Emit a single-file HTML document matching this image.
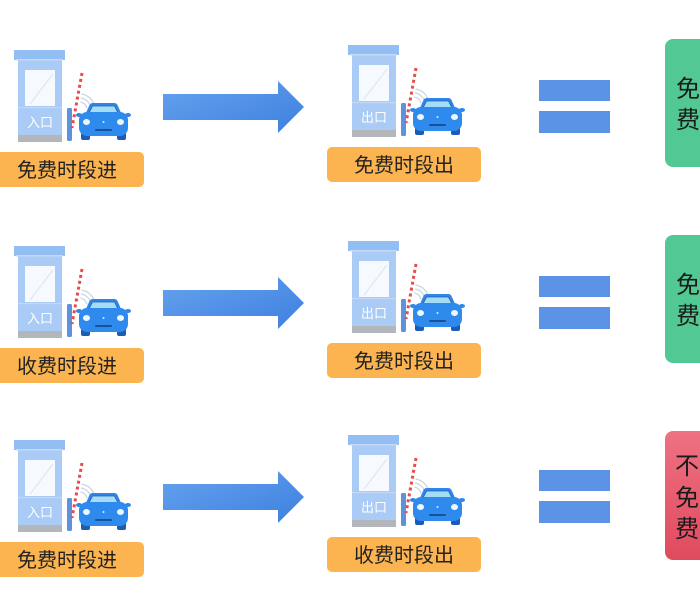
<!DOCTYPE html>
<html><head><meta charset="utf-8"><style>
html,body{margin:0;padding:0;background:#fff;}
svg{display:block;}
.lbl{font-family:"Liberation Sans","Noto Sans CJK SC",sans-serif;font-size:20px;fill:#222;text-anchor:middle;}
.bt{font-family:"Liberation Sans","Noto Sans CJK SC",sans-serif;font-size:13px;fill:#fff;text-anchor:middle;}
.rt{font-family:"Liberation Sans","Noto Sans CJK SC",sans-serif;font-size:24px;fill:#1a1a1a;}
</style></head><body>
<svg width="700" height="600" viewBox="0 0 700 600" xmlns="http://www.w3.org/2000/svg">
<defs>
<linearGradient id="ag" x1="0" y1="0" x2="1" y2="1">
<stop offset="0" stop-color="#66a2ee"/><stop offset="1" stop-color="#3d80df"/>
</linearGradient>
<linearGradient id="rg" x1="0" y1="0" x2="0" y2="1">
<stop offset="0" stop-color="#ee7282"/><stop offset="1" stop-color="#e04a5f"/>
</linearGradient>
<g id="st">
<!-- booth -->
<rect x="18" y="60" width="44" height="76" fill="#a9cbf5"/>
<rect x="14" y="50" width="51" height="10" fill="#93bef3"/>
<rect x="16" y="59" width="47" height="1.5" fill="#c4dbf8"/>
<rect x="25" y="70" width="30" height="36" fill="#f6f9fe"/>
<line x1="30" y1="104" x2="53" y2="74" stroke="#dce8f7" stroke-width="1.2"/>
<rect x="18" y="107" width="44" height="1.2" fill="#c2d8f5"/>
<rect x="18" y="135" width="44" height="7" fill="#b3b6ba"/>
<!-- post -->
<rect x="67" y="108" width="5" height="33" rx="1.5" fill="#5d92dd"/>
<!-- wifi -->
<path d="M80.5,102 A8 8 0 0 1 87,108.5" fill="none" stroke="#c7d4e3" stroke-width="1.2"/>
<path d="M81,98 A12 12 0 0 1 91,108" fill="none" stroke="#c7d4e3" stroke-width="1.2"/>
<path d="M81.5,94 A16 16 0 0 1 95,107.5" fill="none" stroke="#c7d4e3" stroke-width="1.2"/>
<!-- pole -->
<line x1="82" y1="73" x2="72" y2="128" stroke="#e94b4b" stroke-width="3" stroke-dasharray="3 3"/>
<!-- car -->
<rect x="81" y="132" width="9" height="8" rx="2" fill="#1d5cb5"/>
<rect x="117" y="132" width="9" height="8" rx="2" fill="#1d5cb5"/>
<ellipse cx="79" cy="115" rx="3" ry="2" fill="#2f86ea"/>
<ellipse cx="128" cy="115" rx="3" ry="2" fill="#2f86ea"/>
<path d="M85,115 L89.5,105 Q90.5,103 93,103 L114,103 Q116.5,103 117.5,105 L122,115 Z" fill="#2f86ea"/>
<path d="M89,113 L92.5,106 L114.5,106 L118,113 Z" fill="#a4dcf6" stroke="#1f5fae" stroke-width="0.8"/>
<rect x="79" y="112" width="49" height="24" rx="8" fill="#2f8aee"/>
<ellipse cx="86.5" cy="122" rx="3.5" ry="3" fill="#eef6ff"/>
<ellipse cx="120.5" cy="122" rx="3.5" ry="3" fill="#eef6ff"/>
<circle cx="103.5" cy="122" r="1" fill="#d8e9ff"/>
<rect x="95" y="129" width="17" height="2" rx="1" fill="#1a4f99"/>
</g>
<g id="arr">
<polygon points="163,94 278,94 278,81 304,107 278,133 278,120 163,120" fill="url(#ag)"/>
<rect x="539" y="80" width="71" height="21" fill="#5b93e6"/>
<rect x="539" y="111" width="71" height="22" fill="#5b93e6"/>
</g>
</defs>

<!-- Row 1 -->
<use href="#st"/>
<text class="bt" x="40" y="127">入口</text>
<rect x="-10" y="152" width="154" height="35" rx="5" fill="#fbb450"/>
<text class="lbl" x="67" y="177">免费时段进</text>
<use href="#arr"/>
<use href="#st" transform="translate(334,-5)"/>
<text class="bt" x="374" y="122">出口</text>
<rect x="327" y="147" width="154" height="35" rx="5" fill="#fbb450"/>
<text class="lbl" x="404" y="172">免费时段出</text>
<rect x="665" y="39" width="60" height="128" rx="8" fill="#52c994"/>
<text class="rt" x="676" y="97">免</text>
<text class="rt" x="676" y="128">费</text>

<!-- Row 2 -->
<g transform="translate(0,196)">
<use href="#st"/>
<text class="bt" x="40" y="127">入口</text>
<rect x="-10" y="152" width="154" height="35" rx="5" fill="#fbb450"/>
<text class="lbl" x="67" y="177">收费时段进</text>
<use href="#arr"/>
<use href="#st" transform="translate(334,-5)"/>
<text class="bt" x="374" y="122">出口</text>
<rect x="327" y="147" width="154" height="35" rx="5" fill="#fbb450"/>
<text class="lbl" x="404" y="172">免费时段出</text>
<rect x="665" y="39" width="60" height="128" rx="8" fill="#52c994"/>
<text class="rt" x="676" y="97">免</text>
<text class="rt" x="676" y="128">费</text>
</g>

<!-- Row 3 -->
<g transform="translate(0,390)">
<use href="#st"/>
<text class="bt" x="40" y="127">入口</text>
<rect x="-10" y="152" width="154" height="35" rx="5" fill="#fbb450"/>
<text class="lbl" x="67" y="177">免费时段进</text>
<use href="#arr"/>
<use href="#st" transform="translate(334,-5)"/>
<text class="bt" x="374" y="122">出口</text>
<rect x="327" y="147" width="154" height="35" rx="5" fill="#fbb450"/>
<text class="lbl" x="404" y="172">收费时段出</text>
</g>
<rect x="665" y="431" width="60" height="129" rx="8" fill="url(#rg)"/>
<text class="rt" x="675" y="474">不</text>
<text class="rt" x="675" y="506">免</text>
<text class="rt" x="675" y="537">费</text>
</svg>
</body></html>
